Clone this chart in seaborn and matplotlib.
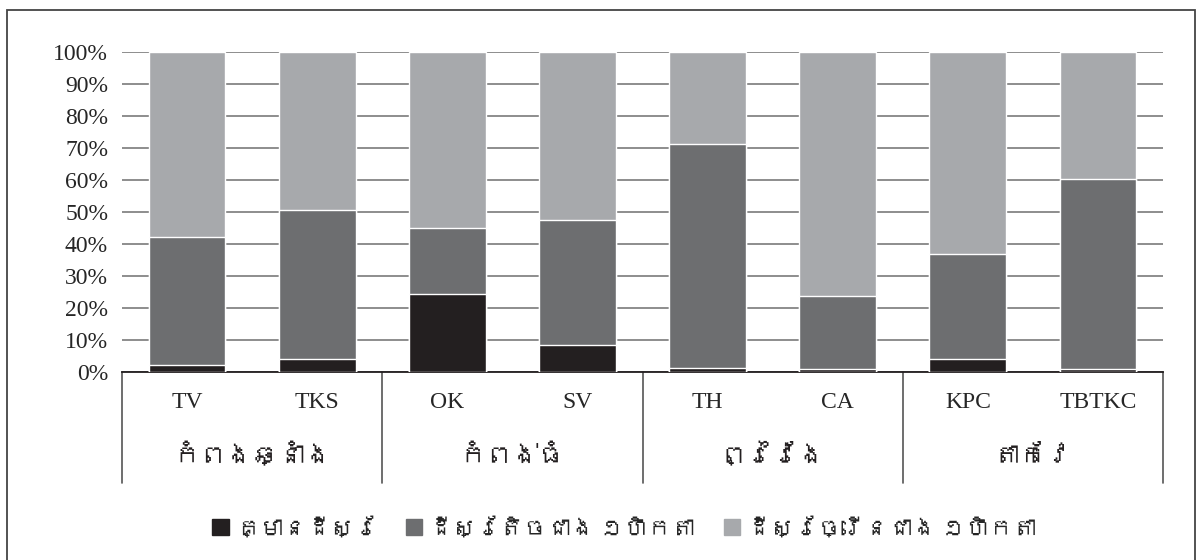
import matplotlib
matplotlib.use("Agg")
import matplotlib.pyplot as plt
import seaborn as sns
from matplotlib import font_manager
from matplotlib.ft2font import FT2Font
from matplotlib.patches import Rectangle

# data (percent of households)
sites = ["TV", "TKS", "OK", "SV", "TH", "CA", "KPC", "TBTKC"]
provinces = ["កំពងឆ្នាំង", "កំពង់ធំ", "ព្រៃវែង", "តាកែវ"]
series_names = ["គ្មានដីស្រែ", "ដីស្រែតិចជាង ១ហិកតា", "ដីស្រែច្រើនជាង ១ហិកតា"]
no_land = [2.2, 4.1, 24.4, 8.5, 1.3, 1.0, 4.1, 1.0]
less_1ha = [40.0, 46.5, 20.6, 39.0, 69.9, 22.8, 32.8, 59.2]
more_1ha = [57.8, 49.4, 55.0, 52.5, 28.8, 76.2, 63.1, 39.8]
colors = ["#231f20", "#6d6e70", "#a7a9ac"]

sns.set_style("white")

# look for any installed font that has Khmer glyphs
khmer = []
for f in font_manager.fontManager.ttflist:
    try:
        if 0x1780 in FT2Font(f.fname).get_charmap() and f.name not in khmer:
            khmer.append(f.name)
    except Exception:
        pass
plt.rcParams["font.family"] = ["Liberation Serif"] + khmer + ["DejaVu Sans"]

fig = plt.figure(figsize=(12.03, 5.6), dpi=100)
ax = fig.add_axes([0.1014, 0.3352, 0.8654, 0.5725])

# stacked bars: draw cumulative totals, tallest first
layers = [no_land, less_1ha, more_1ha]
tops = []
run = [0] * len(sites)
for layer in layers:
    run = [a + b for a, b in zip(run, layer)]
    tops.append(run)
for top, c in reversed(list(zip(tops, colors))):
    sns.barplot(x=sites, y=top, color=c, width=0.59, order=sites, ax=ax,
                saturation=1, zorder=3)

ax.set_xlim(-0.5, len(sites) - 0.5)
ax.set_ylim(0, 100)
ax.set_yticks(range(0, 101, 10))
ax.set_yticklabels([f"{v}%" for v in range(0, 101, 10)], fontsize=17)
ax.yaxis.grid(True, color="#7a7a7a", linewidth=1.2, zorder=0)
ax.set_axisbelow(True)
ax.tick_params(axis="y", length=0, pad=10)
ax.tick_params(axis="x", length=0, pad=14, labelsize=17)
ax.set_xlabel("")
ax.set_ylabel("")
for s in ["left", "right", "top"]:
    ax.spines[s].set_visible(False)
ax.spines["bottom"].set_color("#231f20")
ax.spines["bottom"].set_linewidth(1.3)

# province separators and labels under the site names
for i in range(len(provinces) + 1):
    ax.axvline(-0.5 + 2 * i, ymin=-0.345, ymax=0, clip_on=False,
               color="#555555", linewidth=1.2)
for i, p in enumerate(provinces):
    ax.text(0.5 + 2 * i, -0.265, p, transform=ax.get_xaxis_transform(),
            ha="center", va="center", fontsize=19, color="#231f20")

handles = [Rectangle((0, 0), 1, 1, color=c) for c in colors]
fig.legend(handles, series_names, loc="center", bbox_to_anchor=(0.519, 0.055),
           ncol=3, frameon=False, fontsize=17, handlelength=0.7,
           handleheight=0.7, handletextpad=0.3, columnspacing=1.2)

# outer border
fig.patches.append(Rectangle((7 / 1203, -0.02), 1188 / 1203, 0.982 + 0.02,
                             transform=fig.transFigure, fill=False,
                             edgecolor="#444444", linewidth=1.3))

fig.savefig("out.png", dpi=100)
